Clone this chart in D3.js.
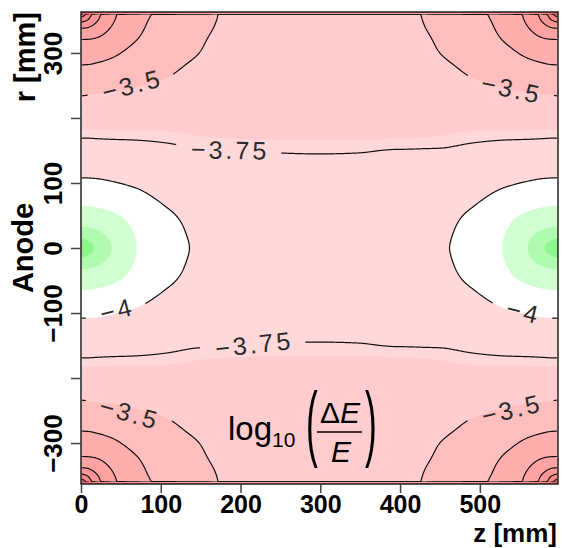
<!DOCTYPE html>
<html>
<head>
<meta charset="utf-8">
<script src="https://cdn.jsdelivr.net/npm/d3@7"></script>
<style>
    body { margin: 0; background: #fff; }
    svg text { font-family: "Liberation Sans", Arial, sans-serif; }
</style>
</head>
<body>
<svg id="chart" width="562" height="548"></svg>
<script>
//Field: upper-left quadrant, mirrored in z (about the middle) and in r
let zNodes = [0, 8, 20, 40, 70, 110, 150, 200, 250, 299];
let rNodes = [0, 30, 65, 108, 140, 170, 200, 235, 265, 295, 320, 340, 352, 360, 362, 363];
//log10(dE/E), one row per r node, one column per z node
let logRes = [
    [-4.55, -4.50, -4.43, -4.29, -4.15, -4.055, -3.975, -3.922, -3.878, -3.86],
    [-4.32, -4.31, -4.29, -4.23, -4.13, -4.047, -3.955, -3.915, -3.876, -3.858],
    [-4.15, -4.149, -4.14, -4.117, -4.07, -3.99, -3.925, -3.90, -3.865, -3.848],
    [-4.00, -3.999, -3.995, -3.98, -3.95, -3.89, -3.87, -3.86, -3.825, -3.81],
    [-3.87, -3.87, -3.86, -3.86, -3.84, -3.81, -3.79, -3.79, -3.765, -3.76],
    [-3.746, -3.746, -3.743, -3.739, -3.736, -3.725, -3.704, -3.697, -3.695, -3.695],
    [-3.63, -3.635, -3.635, -3.64, -3.64, -3.65, -3.66, -3.68, -3.68, -3.68],
    [-3.495, -3.50, -3.51, -3.52, -3.54, -3.57, -3.60, -3.65, -3.66, -3.66],
    [-3.34, -3.35, -3.36, -3.39, -3.44, -3.496, -3.56, -3.63, -3.64, -3.64],
    [-3.17, -3.17, -3.19, -3.24, -3.34, -3.44, -3.51, -3.61, -3.62, -3.63],
    [-3.007, -3.01, -3.03, -3.12, -3.25, -3.39, -3.48, -3.60, -3.60, -3.61],
    [-2.70, -2.73, -2.84, -3.02, -3.20, -3.36, -3.45, -3.58, -3.59, -3.60],
    [-2.33, -2.47, -2.71, -2.97, -3.18, -3.33, -3.43, -3.575, -3.585, -3.595],
    [-1.96, -2.30, -2.64, -2.94, -3.16, -3.32, -3.42, -3.57, -3.58, -3.59],
    [-1.8, -1.8, -1.8, -1.8, -1.8, -1.8, -1.8, -1.8, -1.8, -1.8],
    [-1.8, -1.8, -1.8, -1.8, -1.8, -1.8, -1.8, -1.8, -1.8, -1.8]
];

//Colour steps and contour lines
let fillLevels = [-10, -4.45, -4.3, -4.15, -4.0, -3.7, -3.5, -3.25, -3.0, -2.75, -2.5, -2.25, -2.0];
let fillColors = ["#8cf58c", "#b0fbb0", "#d2ffd2", "#ffffff", "#ffd9d9", "#ffcdcd", "#ffbebe",
    "#ffaeae", "#ffa2a2", "#ff9595", "#ff8686", "#f77474", "#e05555"];
let lineLevels = [-4, -3.75, -3.5, -3.25, -3, -2.75, -2.5, -2.25, -2];

//Contour labels (level, z, r)
let labelLevel = [-3.5, -3.5, -3.5, -3.5, -3.75, -3.75, -4, -4];
let labelZ = [64, 540, 61, 540, 187, 217, 45, 555];
let labelR = [251, 245, -254, -248, 151, -148, -95, -98];

//Axes
let zTicks = [0, 100, 200, 300, 400, 500];
let rTicks = [-300, -200, -100, 0, 100, 200, 300];
let rTickLabels = [-300, -100, 0, 100, 300];

let zMax = 598, rMax = 363;
let W = 562, H = 548;

let svg = d3.select("#chart");
let x = d3.scaleLinear().domain([0, zMax]).range([81, 558]);
let y = d3.scaleLinear().domain([-rMax, rMax]).range([484, 12]);

//Whole table by symmetry
let zFull = zNodes.concat(zNodes.slice(0, -1).reverse().map(z => zMax - z));
let rFull = rNodes.slice(1).reverse().map(r => -r).concat(rNodes);
let zIdx = zNodes.map((z, i) => i).concat(zNodes.slice(0, -1).map((z, i) => i).reverse());
let rIdx = rNodes.slice(1).map((r, i) => i + 1).reverse().concat(rNodes.map((r, i) => i));
let table = rIdx.map(j => zIdx.map(i => logRes[j][i]));

//monotone cubic (Steffen) along one axis
function slopes(xs, ys) {
    let n = xs.length, m = new Array(n);
    for (let i = 0; i < n; i++) {
        if (i === 0) m[i] = (ys[1] - ys[0]) / (xs[1] - xs[0]);
        else if (i === n - 1) m[i] = (ys[n - 1] - ys[n - 2]) / (xs[n - 1] - xs[n - 2]);
        else {
            let h0 = xs[i] - xs[i - 1], h1 = xs[i + 1] - xs[i];
            let s0 = (ys[i] - ys[i - 1]) / h0, s1 = (ys[i + 1] - ys[i]) / h1;
            let p = (s0 * h1 + s1 * h0) / (h0 + h1);
            m[i] = (Math.sign(s0) + Math.sign(s1)) * Math.min(Math.abs(s0), Math.abs(s1), 0.5 * Math.abs(p));
        }
    }
    return m;
}
function hermite(xs, ys, ms, v) {
    let i = Math.max(0, Math.min(xs.length - 2, d3.bisectRight(xs, v) - 1));
    let h = xs[i + 1] - xs[i], t = Math.max(0, Math.min(1, (v - xs[i]) / h));
    let t2 = t * t, t3 = t2 * t;
    return (2 * t3 - 3 * t2 + 1) * ys[i] + (t3 - 2 * t2 + t) * h * ms[i]
        + (-2 * t3 + 3 * t2) * ys[i + 1] + (t3 - t2) * h * ms[i + 1];
}
let rowSlopes = table.map(row => slopes(zFull, row));
function column(z) {
    let col = table.map((row, j) => hermite(zFull, row, rowSlopes[j], z));
    return [col, slopes(rFull, col)];
}
function field(z, r) {
    let [col, ms] = column(z);
    return hermite(rFull, col, ms, r);
}

//sample the field once per pixel of the frame
let nx = Math.round(x(zMax) - x(0)), ny = Math.round(y(-rMax) - y(rMax));
let values = new Float64Array(nx * ny);
for (let i = 0; i < nx; i++) {
    let [col, ms] = column(zMax * (i + 0.5) / nx);
    for (let j = 0; j < ny; j++) {
        values[j * nx + i] = hermite(rFull, col, ms, rMax - 2 * rMax * (j + 0.5) / ny);
    }
}

let toScreen = d3.geoTransform({
    point: function (gx, gy) {
        this.stream.point(x(gx / nx * zMax), y(rMax - gy / ny * 2 * rMax));
    }
});
let path = d3.geoPath(toScreen);

let defs = svg.append("defs");
defs.append("clipPath").attr("id", "inner").append("rect")
    .attr("x", x(0) + 1).attr("y", y(360))
    .attr("width", x(zMax) - x(0) - 2).attr("height", y(-360) - y(360));
let mask = defs.append("mask").attr("id", "gaps").attr("maskUnits", "userSpaceOnUse")
    .attr("x", 0).attr("y", 0).attr("width", W).attr("height", H);
mask.append("rect").attr("width", W).attr("height", H).attr("fill", "white");

//Colour bands
svg.append("g")
    .selectAll("path")
    .data(d3.contours().size([nx, ny]).thresholds(fillLevels)(values))
    .join("path")
    .attr("d", path)
    .attr("fill", (d, i) => fillColors[i]);

//Contour lines
svg.append("g")
    .attr("clip-path", "url(#inner)")
    .attr("mask", "url(#gaps)")
    .selectAll("path")
    .data(d3.contours().size([nx, ny]).thresholds(lineLevels)(values))
    .join("path")
    .attr("d", path)
    .attr("fill", "none")
    .attr("stroke", "#111")
    .attr("stroke-width", 1.2)
    .attr("stroke-linejoin", "round");

//label direction follows the line
function fieldAt(px, py) { return field(x.invert(px), y.invert(py)); }
function tangentAngle(px, py) {
    let gx = fieldAt(px + 2, py) - fieldAt(px - 2, py);
    let gy = fieldAt(px, py + 2) - fieldAt(px, py - 2);
    let a = Math.atan2(gx, -gy) * 180 / Math.PI;
    if (a > 90) a -= 180;
    if (a <= -90) a += 180;
    return a;
}

labelLevel.forEach((lv, k) => {
    let px = x(labelZ[k]), py = y(labelR[k]);
    let tr = "translate(" + px + "," + py + ") rotate(" + tangentAngle(px, py).toFixed(1) + ")";
    let t = svg.append("g").attr("transform", tr)
        .append("text")
        .attr("text-anchor", "middle")
        .attr("dy", "0.36em")
        .attr("fill", "#2a2a2a")
        .style("font-size", "25px")
        .style("letter-spacing", "3px")
        .text(String(lv).replace("-", "\u2212"));
    let bb = t.node().getBBox();
    mask.append("rect").attr("transform", tr)
        .attr("x", bb.x - 15).attr("y", bb.y + 3)
        .attr("width", bb.width + 27).attr("height", bb.height - 6)
        .attr("fill", "black");
});

//Frame
svg.append("rect")
    .attr("x", x(0)).attr("y", y(rMax))
    .attr("width", x(zMax) - x(0)).attr("height", y(-rMax) - y(rMax))
    .attr("fill", "none").attr("stroke", "#222").attr("stroke-width", 1.5);

//X axis
let xAxis = svg.append("g")
    .attr("transform", "translate(0," + y(-rMax) + ")")
    .call(d3.axisBottom(x).tickValues(zTicks).tickSize(9).tickSizeOuter(0).tickFormat(d3.format("d")));
xAxis.select(".domain").remove();
xAxis.selectAll("line").attr("stroke", "#444").attr("stroke-width", 1.5);
xAxis.selectAll("text")
    .attr("y", 29).attr("dy", null).attr("fill", "#000")
    .style("font-size", "25px").style("font-weight", "bold");

//Y axis, labels turned
let yAxis = svg.append("g")
    .attr("transform", "translate(" + x(0) + ",0)")
    .call(d3.axisLeft(y).tickValues(rTicks).tickSize(10).tickSizeOuter(0)
        .tickFormat(d => rTickLabels.includes(d) ? d3.format("d")(d) : ""));
yAxis.select(".domain").remove();
yAxis.selectAll("line").attr("stroke", "#444").attr("stroke-width", 1.5);
yAxis.selectAll("text")
    .attr("transform", "rotate(-90)")
    .attr("x", 0).attr("y", -19).attr("dy", null)
    .attr("text-anchor", "middle").attr("fill", "#000")
    .style("font-size", "26px").style("font-weight", "bold");

//Axis titles
svg.append("text")
    .attr("x", 557).attr("y", 542)
    .attr("text-anchor", "end")
    .style("font-size", "26px").style("font-weight", "bold")
    .text("z [mm]");
svg.append("text")
    .attr("transform", "translate(35,12) rotate(-90)")
    .attr("text-anchor", "end")
    .style("font-size", "29px").style("font-weight", "bold")
    .text("r [mm]");
svg.append("text")
    .attr("transform", "translate(33," + y(0) + ") rotate(-90)")
    .attr("text-anchor", "middle")
    .style("font-size", "29px").style("font-weight", "bold")
    .text("Anode");

//Quantity shown
let ann = svg.append("g");
let logText = ann.append("text").attr("x", 228).attr("y", 440).style("font-size", "33px").text("log");
logText.append("tspan").attr("dy", 7).style("font-size", "21px").text("10");
ann.append("text").attr("transform", "translate(306,451) scale(0.42,1)")
    .style("font-size", "84px").text("(");
ann.append("text").attr("transform", "translate(365,451) scale(0.42,1)")
    .style("font-size", "84px").text(")");
let num = ann.append("text").attr("x", 340).attr("y", 423).attr("text-anchor", "middle").style("font-size", "30px");
num.append("tspan").text("\u0394");
num.append("tspan").style("font-style", "italic").text("E");
ann.append("line").attr("x1", 317).attr("x2", 362).attr("y1", 432).attr("y2", 432)
    .attr("stroke", "#000").attr("stroke-width", 1.5);
ann.append("text").attr("x", 341).attr("y", 462).attr("text-anchor", "middle")
    .style("font-size", "30px").style("font-style", "italic").text("E");
</script>
</body>
</html>
